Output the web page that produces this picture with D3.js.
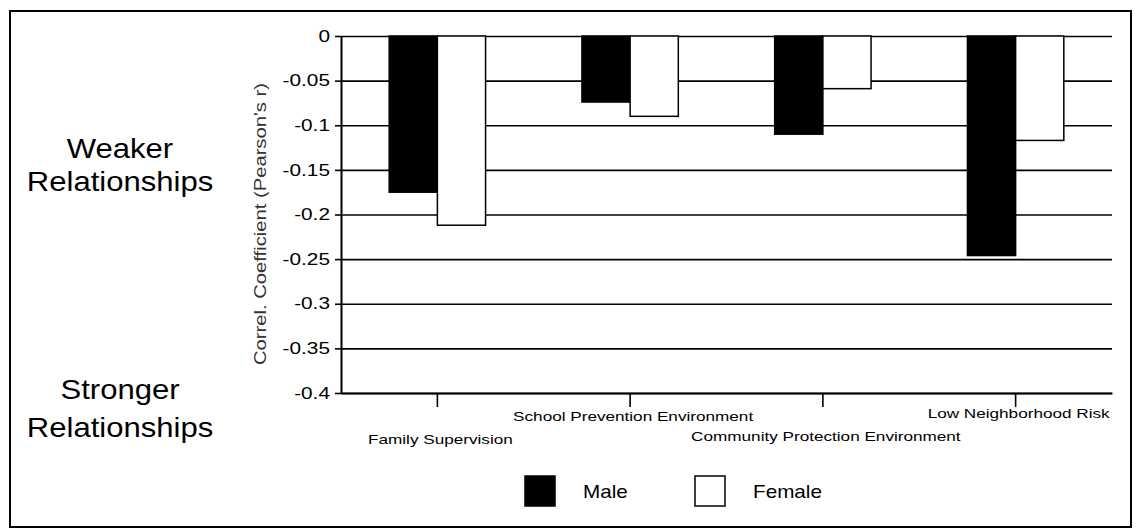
<!DOCTYPE html>
<html>
<head>
<meta charset="utf-8">
<script src="https://cdn.jsdelivr.net/npm/d3@7"></script>
<style>
  body { margin: 0; background: #fff; }
  text { font-family: "Liberation Sans", Arial, sans-serif; }
</style>
</head>
<body>
<div class="chart"></div>
<script>
var categories = ["Family Supervision", "School Prevention Environment",
                  "Community Protection Environment", "Low Neighborhood Risk"];
var seriesNames = ["Male", "Female"];
var maleValues = [-0.175, -0.074, -0.11, -0.246];
var femaleValues = [-0.212, -0.09, -0.059, -0.117];
var yTicks = [0, -0.05, -0.1, -0.15, -0.2, -0.25, -0.3, -0.35, -0.4];
var yTitle = "Correl. Coefficient (Pearson's r)";

var rows = categories.map(function(c, i) {
  return { cat: c, Male: maleValues[i], Female: femaleValues[i] };
});

var W = 1136, H = 529;
var plotLeft = 341, plotRight = 1112, plotTop = 36, plotBottom = 393;

var svg = d3.select(".chart")
            .append("svg")
            .attr("width", W)
            .attr("height", H)
            .style("background-color", "white");

// outer frame
svg.append("rect")
   .attr("x", 10)
   .attr("y", 11)
   .attr("width", 1121)
   .attr("height", 516)
   .attr("fill", "none")
   .attr("stroke", "black")
   .attr("stroke-width", 2);

var y = d3.scaleLinear().domain([-0.4, 0]).range([plotBottom, plotTop]);
var x0 = d3.scaleBand().domain(categories).range([plotLeft, plotRight])
           .paddingInner(0.5).paddingOuter(0.25);
var x1 = d3.scaleBand().domain(seriesNames).range([0, x0.bandwidth()]);
var color = d3.scaleOrdinal().domain(seriesNames).range(["black", "white"]);

// gridlines
svg.append("g")
   .attr("transform", "translate(" + plotLeft + ",0)")
   .call(d3.axisLeft(y).tickValues(yTicks).tickSize(-(plotRight - plotLeft)).tickFormat(""))
   .call(function(g) {
     g.select(".domain").remove();
     g.selectAll("line").attr("stroke", "black").attr("stroke-width", 1.6);
   });

// bars
var groups = svg.append("g").selectAll("g")
   .data(rows)
   .enter().append("g")
   .attr("transform", function(d) { return "translate(" + x0(d.cat) + ",0)"; });

groups.selectAll("rect")
   .data(function(d) { return seriesNames.map(function(s) { return { key: s, value: d[s] }; }); })
   .enter().append("rect")
   .attr("x", function(d) { return x1(d.key); })
   .attr("y", y(0))
   .attr("width", x1.bandwidth())
   .attr("height", function(d) { return y(d.value) - y(0); })
   .attr("fill", function(d) { return color(d.key); })
   .attr("stroke", "black")
   .attr("stroke-width", 1.5);

// y axis
var sx = 1.3;
svg.append("g")
   .attr("transform", "translate(" + plotLeft + ",0)")
   .call(d3.axisLeft(y).tickValues(yTicks).tickSize(6).tickSizeOuter(0)
           .tickFormat(function(d) { return d === 0 ? "0" : String(+d.toFixed(2)); }))
   .call(function(g) {
     g.selectAll("line").attr("stroke", "black").attr("stroke-width", 1.6);
     g.select(".domain").attr("stroke", "black").attr("stroke-width", 2);
     g.selectAll("text")
      .attr("x", -8.5)
      .attr("transform", "scale(" + sx + ",1)")
      .style("font-size", "16px")
      .style("fill", "black");
   });

// x axis with ticks at category centres
svg.append("g")
   .attr("transform", "translate(0," + plotBottom + ")")
   .call(d3.axisBottom(x0).tickSize(14).tickSizeOuter(0).tickFormat(""))
   .call(function(g) {
     g.select(".domain").attr("stroke", "black").attr("stroke-width", 2);
     g.selectAll("line").attr("stroke", "black").attr("stroke-width", 1.6);
   });

// staggered category labels
var labelDy = [51, 28, 48, 25];
svg.append("g").selectAll("text")
   .data(categories)
   .enter().append("text")
   .attr("text-anchor", "middle")
   .attr("transform", function(d, i) {
     return "translate(" + (x0(d) + x0.bandwidth() / 2 + 3) + "," + (plotBottom + labelDy[i]) + ") scale(1.27,1)";
   })
   .style("font-size", "13.5px")
   .text(function(d) { return d; });

// y title
svg.append("text")
   .attr("text-anchor", "middle")
   .attr("transform", "translate(266,224) rotate(-90)")
   .attr("textLength", 282)
   .attr("lengthAdjust", "spacingAndGlyphs")
   .style("font-size", "17px")
   .style("fill", "#333")
   .text(yTitle);

// side notes
var notes = [["Weaker", 158], ["Relationships", 191], ["Stronger", 399], ["Relationships", 437]];
svg.append("g").selectAll("text")
   .data(notes)
   .enter().append("text")
   .attr("text-anchor", "middle")
   .attr("transform", function(d) { return "translate(120," + d[1] + ") scale(1.15,1)"; })
   .style("font-size", "27px")
   .text(function(d) { return d[0]; });

// legend
var legendX = [525, 695];
var legend = svg.append("g").selectAll("g")
   .data(seriesNames)
   .enter().append("g")
   .attr("transform", function(d, i) { return "translate(" + legendX[i] + ",476)"; });
legend.append("rect")
   .attr("width", 30)
   .attr("height", 30)
   .attr("fill", function(d) { return color(d); })
   .attr("stroke", "black")
   .attr("stroke-width", 1.5);
legend.append("text")
   .attr("transform", "translate(58,22) scale(1.15,1)")
   .style("font-size", "18px")
   .text(function(d) { return d; });
</script>
</body>
</html>
